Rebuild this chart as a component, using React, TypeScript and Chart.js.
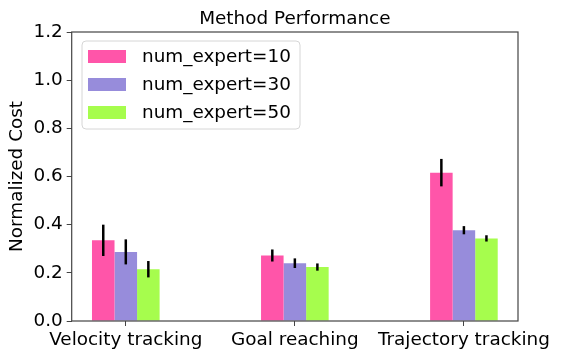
import React, { useEffect, useRef } from "react";
import { Chart, registerables } from "chart.js";

Chart.register(...registerables);

const categories = ["Velocity tracking", "Goal reaching", "Trajectory tracking"];
const seriesNames = ["num_expert=10", "num_expert=30", "num_expert=50"];
const expert10 = [0.335, 0.272, 0.616];
const expert30 = [0.287, 0.24, 0.377];
const expert50 = [0.215, 0.224, 0.343];
const err10 = [0.065, 0.025, 0.057];
const err30 = [0.052, 0.02, 0.017];
const err50 = [0.034, 0.015, 0.013];
const yTicks = [0, 0.2, 0.4, 0.6, 0.8, 1.0, 1.2];

const colors = ["#ff55a9", "#978cdb", "#a6fd4d"];
const FONT = "DejaVu Sans";
const FS = 18.4;

export default function App() {
  const ref = useRef<HTMLCanvasElement | null>(null);

  useEffect(() => {
    if (!ref.current) return;
    const values = [expert10, expert30, expert50];
    const errors = [err10, err30, err50];

    const errorBars = {
      id: "errorBars",
      afterDatasetsDraw(chart: any) {
        const ctx = chart.ctx;
        const ys = chart.scales.y;
        ctx.save();
        ctx.strokeStyle = "#000";
        ctx.lineWidth = 2.5;
        values.forEach((vals, i) => {
          const meta = chart.getDatasetMeta(i);
          meta.data.forEach((bar: any, j: number) => {
            const y1 = ys.getPixelForValue(vals[j] - errors[i][j]);
            const y2 = ys.getPixelForValue(vals[j] + errors[i][j]);
            ctx.beginPath();
            ctx.moveTo(bar.x, y1);
            ctx.lineTo(bar.x, y2);
            ctx.stroke();
          });
        });
        ctx.restore();
      },
    };

    const decor = {
      id: "decor",
      afterDraw(chart: any) {
        const ctx = chart.ctx;
        const a = chart.chartArea;
        ctx.save();
        ctx.strokeStyle = "#444";
        ctx.lineWidth = 1.2;
        ctx.strokeRect(a.left, a.top, a.right - a.left, a.bottom - a.top);
        ctx.fillStyle = "#000";
        ctx.font = `${FS}px "${FONT}"`;
        ctx.textAlign = "center";
        ctx.textBaseline = "alphabetic";
        ctx.fillText("Method Performance", (a.left + a.right) / 2, 24);
        ctx.save();
        ctx.translate(17, (a.top + a.bottom) / 2);
        ctx.rotate(-Math.PI / 2);
        ctx.textBaseline = "middle";
        ctx.fillText("Normalized Cost", 0, 0);
        ctx.restore();
        const lx = 82, ly = 41, lw = 218, lh = 88, r = 4;
        ctx.beginPath();
        ctx.moveTo(lx + r, ly);
        ctx.arcTo(lx + lw, ly, lx + lw, ly + lh, r);
        ctx.arcTo(lx + lw, ly + lh, lx, ly + lh, r);
        ctx.arcTo(lx, ly + lh, lx, ly, r);
        ctx.arcTo(lx, ly, lx + lw, ly, r);
        ctx.closePath();
        ctx.fillStyle = "rgba(255,255,255,0.8)";
        ctx.fill();
        ctx.strokeStyle = "#d6d6d6";
        ctx.lineWidth = 1;
        ctx.stroke();
        seriesNames.forEach((name, i) => {
          const cy = 56.5 + i * 28;
          ctx.fillStyle = colors[i];
          ctx.fillRect(88, cy - 6.5, 38, 13);
          ctx.fillStyle = "#000";
          ctx.textAlign = "left";
          ctx.textBaseline = "middle";
          ctx.fillText(name, 142, cy + 1);
        });
        ctx.restore();
      },
    };

    const chart = new Chart(ref.current, {
      type: "bar",
      data: {
        datasets: values.map((vals, i) => ({
          label: seriesNames[i],
          data: vals.map((v, j) => ({ x: j, y: v })),
          backgroundColor: colors[i],
          borderWidth: 0,
          categoryPercentage: 0.4,
          barPercentage: 1.0,
        })),
      },
      options: {
        animation: false,
        responsive: true,
        maintainAspectRatio: false,
        layout: { padding: { left: 0, top: 32, right: 43, bottom: 0 } },
        plugins: {
          legend: { display: false },
          title: { display: false },
          tooltip: { enabled: false },
        },
        scales: {
          x: {
            type: "linear",
            offset: false,
            min: -0.32,
            max: 2.32,
            afterBuildTicks: (s: any) => {
              s.ticks = categories.map((_, i) => ({ value: i }));
            },
            afterFit: (s: any) => {
              s.height = 38;
            },
            grid: { display: true, offset: false, drawOnChartArea: false, drawTicks: true, tickLength: 5, color: "#444" },
            border: { display: false },
            ticks: {
              autoSkip: false,
              maxRotation: 0,
              padding: 3,
              color: "#000",
              font: { family: FONT, size: FS },
              callback: (v: any) => categories[v] ?? "",
            },
          },
          y: {
            min: 0,
            max: 1.2,
            afterBuildTicks: (s: any) => {
              s.ticks = yTicks.map((v) => ({ value: v }));
            },
            afterFit: (s: any) => {
              s.width = 71.7;
            },
            grid: { display: true, drawOnChartArea: false, drawTicks: true, tickLength: 5, color: "#444" },
            border: { display: false },
            ticks: {
              padding: 4,
              color: "#000",
              font: { family: FONT, size: FS },
              callback: (v: any) => Number(v).toFixed(1),
            },
          },
        },
      },
      plugins: [errorBars, decor],
    });
    return () => chart.destroy();
  }, []);

  return (
    <div style={{ position: "absolute", left: 0, top: 0, width: 561, height: 359, background: "#fff" }}>
      <canvas ref={ref} />
    </div>
  );
}
